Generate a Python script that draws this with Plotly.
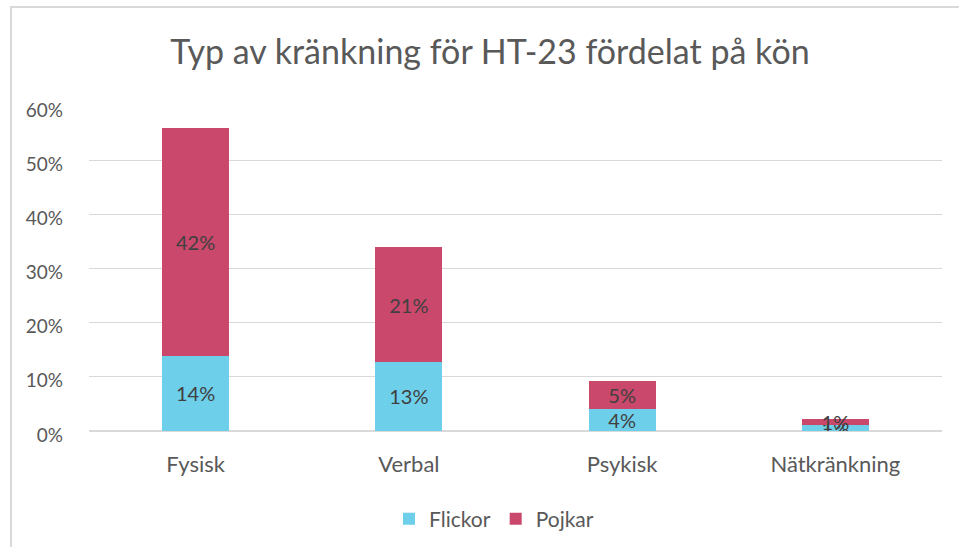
import plotly.graph_objects as go

categories = ["Fysisk", "Verbal", "Psykisk", "Nätkränkning"]
flickor = [14, 13, 4, 1]
pojkar = [42, 21, 5, 1]
flickor_shown = [13.9, 12.8, 4.0, 1.1]
pojkar_shown = [42.1, 21.1, 5.2, 1.1]
y_ticks = [0, 10, 20, 30, 40, 50, 60]
y_labels = ["0%", "10%", "20%", "30%", "40%", "50%", "60%"]

FONT = "Lato, Carlito, Liberation Sans, sans-serif"
GRAY = "#595959"

fig = go.Figure()
fig.add_trace(go.Bar(
    name="Flickor", x=categories, y=flickor_shown,
    text=[f"{v}%" for v in flickor], textposition="inside",
    insidetextanchor="middle", textangle=0, constraintext="none",
    textfont=dict(size=20, color="#404040", family=FONT),
    marker=dict(color="#6ECFEA", line=dict(width=0)),
    hoverinfo="skip",
))
fig.add_trace(go.Bar(
    name="Pojkar", x=categories, y=pojkar_shown,
    text=[f"{v}%" for v in pojkar], textposition="inside",
    insidetextanchor="middle", textangle=0, constraintext="none",
    textfont=dict(size=20, color="#404040", family=FONT),
    marker=dict(color="#C9486B", line=dict(width=0)),
    hoverinfo="skip",
))

W, H = 959, 547
L, R, T, B = 89, 17, 106, 116
pw, ph = W - L - R, H - T - B

fig.update_layout(
    barmode="stack",
    bargap=0.686,
    width=W, height=H,
    margin=dict(l=L, r=R, t=T, b=B, pad=0, autoexpand=False),
    paper_bgcolor="white", plot_bgcolor="white",
    font=dict(family=FONT, color=GRAY, size=19),
    title=dict(text="Typ av kränkning för HT-23 fördelat på kön",
               x=490 / W, xanchor="center", y=1 - 52 / H, yanchor="middle",
               yref="container", font=dict(size=34, color=GRAY, family=FONT)),
    legend=dict(orientation="h", x=494 / W, xanchor="center", xref="container",
                y=1 - 519 / H, yanchor="middle", yref="container",
                font=dict(size=21, color=GRAY, family=FONT),
                itemwidth=30, traceorder="normal"),
    xaxis=dict(showgrid=False, showline=False, ticks="", automargin=False,
               tickfont=dict(size=22, color=GRAY), ticklabelstandoff=18),
    yaxis=dict(range=[0, 60], tickvals=y_ticks, ticktext=y_labels,
               automargin=False,
               showgrid=True, gridcolor="#D9D9D9", gridwidth=1,
               zeroline=True, zerolinecolor="#D9D9D9", zerolinewidth=2,
               showline=False, ticks="", ticklabelstandoff=25,
               ticklabelshift=4,
               tickfont=dict(size=19, color=GRAY)),
    shapes=[dict(type="rect", xref="paper", yref="paper",
                 x0=(11 - L) / pw, x1=(980 - L) / pw,
                 y0=(431 - 570) / ph, y1=(431 - 7) / ph,
                 line=dict(color="#D9D9D9", width=2), layer="below")],
)

fig.write_html(
    "out.html",
    config={"displayModeBar": False},
    post_script=(
        "document.documentElement.style.margin='0';"
        "document.documentElement.style.overflow='hidden';"
        "document.body.style.margin='0';"
        "document.body.style.overflow='hidden';"
        "document.body.style.height='547px';"
    ),
)
